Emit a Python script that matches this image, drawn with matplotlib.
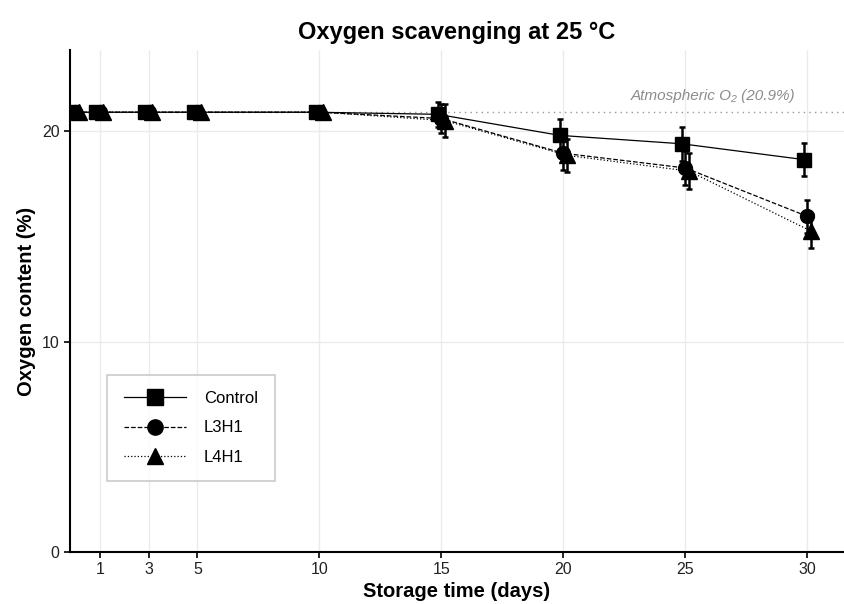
import matplotlib
matplotlib.use("Agg")
import matplotlib.pyplot as plt
from matplotlib.lines import Line2D
import numpy as np

plt.rcParams['font.family'] = ['Liberation Sans', 'DejaVu Sans']

days = [0, 1, 3, 5, 10, 15, 20, 25, 30]
series_names = ["Control", "L3H1", "L4H1"]
control = [20.9, 20.9, 20.9, 20.9, 20.9, 20.8, 19.8, 19.4, 18.65]
l3h1 = [20.9, 20.9, 20.9, 20.9, 20.9, 20.6, 18.95, 18.25, 15.95]
l4h1 = [20.9, 20.9, 20.9, 20.9, 20.9, 20.5, 18.85, 18.1, 15.25]
control_sd = [0, 0, 0, 0, 0, 0.6, 0.8, 0.8, 0.8]
l3h1_sd = [0, 0, 0, 0, 0, 0.7, 0.8, 0.8, 0.8]
l4h1_sd = [0, 0, 0, 0, 0, 0.8, 0.8, 0.85, 0.8]
xticks = [1, 3, 5, 10, 15, 20, 25, 30]
yticks = [0, 10, 20]
atm = 20.9

fig = plt.figure(figsize=(8.44, 6.04), dpi=100)
ax = fig.add_axes([0.083, 0.086, 0.917, 0.831])

styles = [
    dict(ls='-', marker='s', lw=0.9, ms=10),
    dict(ls='--', marker='o', lw=0.9, ms=10),
    dict(ls=':', marker='^', lw=0.9, ms=11),
]
offsets = [-0.15, 0.0, 0.15]
vals = [control, l3h1, l4h1]
sds = [control_sd, l3h1_sd, l4h1_sd]

ax.axhline(atm, color='#999999', ls=(0, (1, 3)), lw=1.0, zorder=1)
ax.text(29.5, 21.66, "Atmospheric O₂ (20.9%)", ha='right', va='center',
        style='italic', color='#8c8c8c', fontsize=11)

handles = []
for name, v, sd, st, off in zip(series_names, vals, sds, styles, offsets):
    x = np.array(days) + off
    ax.errorbar(x, v, yerr=sd, color='black', ls=st['ls'], lw=st['lw'],
                marker=st['marker'], ms=st['ms'], mfc='black', mec='black',
                elinewidth=1.8, capsize=2, capthick=1.8, zorder=3)
    handles.append(Line2D([], [], color='black', ls=st['ls'], lw=st['lw'],
                          marker=st['marker'], ms=st['ms'] + 1, label=name))

ax.set_xlim(-0.22, 31.5)
ax.set_ylim(0, 23.85)
ax.set_xticks(xticks)
ax.set_yticks(yticks)
ax.grid(True, color='#ebebeb', lw=1.0, zorder=0)
ax.set_axisbelow(True)
for s in ['top', 'right']:
    ax.spines[s].set_visible(False)
for s in ['left', 'bottom']:
    ax.spines[s].set_linewidth(1.5)
    ax.spines[s].set_color('black')
ax.tick_params(axis='both', labelsize=11.5, colors='black', labelcolor='#222222',
               length=4, width=1.2)

ax.set_title("Oxygen scavenging at 25 °C", fontsize=17, fontweight='bold', pad=8)
ax.set_xlabel("Storage time (days)", fontsize=14.5, fontweight='bold', labelpad=3)
ax.set_ylabel("Oxygen content (%)", fontsize=14.5, fontweight='bold', labelpad=4)

leg = ax.legend(handles=handles, loc='lower left', bbox_to_anchor=(0.048, 0.141),
                fontsize=12, frameon=True, fancybox=False, edgecolor='#bdbdbd',
                handlelength=3.7, borderpad=1.0, labelspacing=0.85,
                handletextpad=1.1, borderaxespad=0)
leg.get_frame().set_linewidth(1.2)

fig.savefig("out.png", dpi=100)
